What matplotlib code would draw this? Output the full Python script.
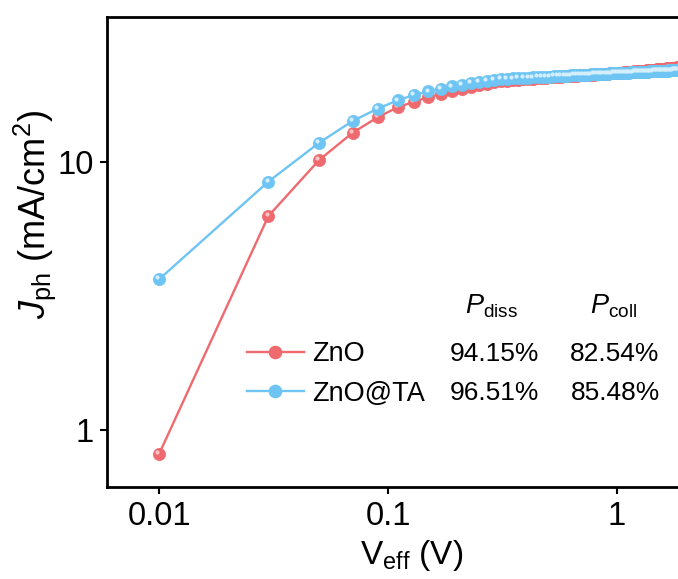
import matplotlib
matplotlib.use("Agg")
import matplotlib.pyplot as plt
from matplotlib.lines import Line2D
from matplotlib.transforms import offset_copy

plt.rcParams['font.family'] = ['Liberation Sans', 'DejaVu Sans']
plt.rcParams['mathtext.fontset'] = 'custom'
plt.rcParams['mathtext.rm'] = 'Liberation Sans'
plt.rcParams['mathtext.it'] = 'Liberation Sans:italic'

# effective voltage grid (V)
v_eff = [0.01, 0.03, 0.05, 0.07, 0.09, 0.11, 0.13, 0.15, 0.17, 0.19,
         0.21, 0.23, 0.25, 0.27, 0.29, 0.31, 0.33, 0.35, 0.37, 0.39,
         0.41, 0.43, 0.45, 0.47, 0.49, 0.51, 0.53, 0.55, 0.57, 0.59,
         0.61, 0.63, 0.65, 0.67, 0.69, 0.71, 0.73, 0.75, 0.77, 0.79,
         0.81, 0.83, 0.85, 0.87, 0.89, 0.91, 0.93, 0.95, 0.97, 0.99,
         1.01, 1.03, 1.05, 1.07, 1.09, 1.11, 1.13, 1.15, 1.17, 1.19,
         1.21, 1.23, 1.25, 1.27, 1.29, 1.31, 1.33, 1.35, 1.37, 1.39,
         1.41, 1.43, 1.45, 1.47, 1.49, 1.51, 1.53, 1.55, 1.57, 1.59,
         1.61, 1.63, 1.65, 1.67, 1.69, 1.71, 1.73, 1.75, 1.77, 1.79,
         1.81, 1.83, 1.85, 1.87, 1.89]

# photocurrent density (mA/cm2)
j_zno = [0.816, 6.30, 10.20, 12.89, 14.72, 16.04, 16.83, 17.52, 18.00, 18.43,
         18.82, 19.14, 19.43, 19.67, 19.87, 20.03, 20.16, 20.26, 20.33, 20.39,
         20.46, 20.52, 20.58, 20.64, 20.70, 20.75, 20.79, 20.84, 20.87, 20.92,
         20.95, 21.01, 21.04, 21.07, 21.12, 21.14, 21.17, 21.21, 21.24, 21.26,
         21.30, 21.33, 21.35, 21.39, 21.41, 21.43, 21.47, 21.49, 21.51, 21.55,
         21.57, 21.60, 21.62, 21.67, 21.69, 21.72, 21.74, 21.78, 21.79, 21.83,
         21.84, 21.88, 21.89, 21.94, 21.95, 21.99, 22.00, 22.04, 22.05, 22.08,
         22.10, 22.13, 22.14, 22.19, 22.20, 22.23, 22.24, 22.28, 22.29, 22.32,
         22.33, 22.37, 22.39, 22.42, 22.43, 22.46, 22.47, 22.50, 22.51, 22.55,
         22.56, 22.59, 22.60, 22.63, 22.64]

j_zno_ta = [3.66, 8.47, 11.83, 14.26, 15.85, 17.03, 17.85, 18.40, 18.85, 19.20,
            19.50, 19.75, 19.97, 20.15, 20.30, 20.42, 20.51, 20.57, 20.62, 20.66,
            20.71, 20.75, 20.79, 20.83, 20.87, 20.90, 20.94, 20.97, 21.00, 21.03,
            21.06, 21.09, 21.12, 21.15, 21.18, 21.20, 21.23, 21.25, 21.28, 21.30,
            21.32, 21.35, 21.37, 21.39, 21.41, 21.43, 21.45, 21.47, 21.49, 21.51,
            21.53, 21.54, 21.56, 21.58, 21.60, 21.61, 21.63, 21.65, 21.66, 21.68,
            21.69, 21.71, 21.72, 21.74, 21.75, 21.77, 21.78, 21.80, 21.81, 21.82,
            21.84, 21.85, 21.86, 21.88, 21.89, 21.90, 21.91, 21.93, 21.94, 21.95,
            21.96, 21.97, 21.99, 22.00, 22.01, 22.02, 22.03, 22.04, 22.05, 22.06,
            22.07, 22.08, 22.09, 22.10, 22.11]

labels = ["ZnO", "ZnO@TA"]
p_diss = ["94.15%", "96.51%"]
p_coll = ["82.54%", "85.48%"]

red = "#EF6A6E"
red_hi = "#FBC4C6"
blue = "#6EC4F2"
blue_hi = "#D4EEFC"

W, H = 678, 579
fig = plt.figure(figsize=(W / 100, H / 100), dpi=100)
# axes runs past the right edge of the picture, as in the reference crop
ax = fig.add_axes([107.5 / W, 92 / H, 588 / W, 470 / H])

for y, c, hi in [(j_zno, red, red_hi), (j_zno_ta, blue, blue_hi)]:
    ax.plot(v_eff, y, color=c, lw=1.7, marker="o", ms=8.8, mfc=c, mec=c, mew=0.5)
    # little shine on each ball
    shine = offset_copy(ax.transData, fig=fig, x=-1.3, y=1.3, units="points")
    ax.plot(v_eff, y, ls="none", marker="o", ms=3.0, mfc=hi, mec="none",
            transform=shine)

ax.set_xscale("log")
ax.set_yscale("log")
ax.set_xlim(0.00595, 2.2)
ax.set_ylim(0.614, 34.85)
ax.set_xticks([0.01, 0.1, 1])
ax.set_xticklabels(["0.01", "0.1", "1"])
ax.set_yticks([1, 10])
ax.set_yticklabels(["1", "10"])
ax.minorticks_off()
ax.tick_params(direction="out", length=5, width=1.5, labelsize=23.5, pad=5)
for s in ax.spines.values():
    s.set_linewidth(2.0)

ax.set_xlabel(r"V$_{\rm eff}$ (V)", fontsize=24)
ax.xaxis.set_label_coords(0.518, -0.108)
ax.set_ylabel(r"$J_{\rm ph}$ (mA/cm$^2$)", fontsize=26)
ax.yaxis.set_label_coords(-0.085, 0.58)

handles = [
    Line2D([], [], color=red, lw=1.7, marker="o", ms=8.8, mfc=red, mec=red),
    Line2D([], [], color=blue, lw=1.7, marker="o", ms=8.8, mfc=blue, mec=blue),
]
ax.legend(handles, labels, loc="upper left",
          bbox_to_anchor=(247 / W, 1 - 341 / H), bbox_transform=fig.transFigure,
          frameon=False, fontsize=19.5, handlelength=2.1, handletextpad=0.3,
          labelspacing=0.5, borderpad=0, borderaxespad=0)

fig.text(492 / W, 1 - 306 / H, r"$P_{\rm diss}$", fontsize=19.5, ha="center", va="center")
fig.text(614 / W, 1 - 306 / H, r"$P_{\rm coll}$", fontsize=19.5, ha="center", va="center")
for i, row_y in enumerate([354, 393]):
    fig.text(494 / W, 1 - row_y / H, p_diss[i], fontsize=19, ha="center", va="center")
    fig.text(615 / W, 1 - row_y / H, p_coll[i], fontsize=19, ha="center", va="center")

fig.savefig("out.png", dpi=100)
